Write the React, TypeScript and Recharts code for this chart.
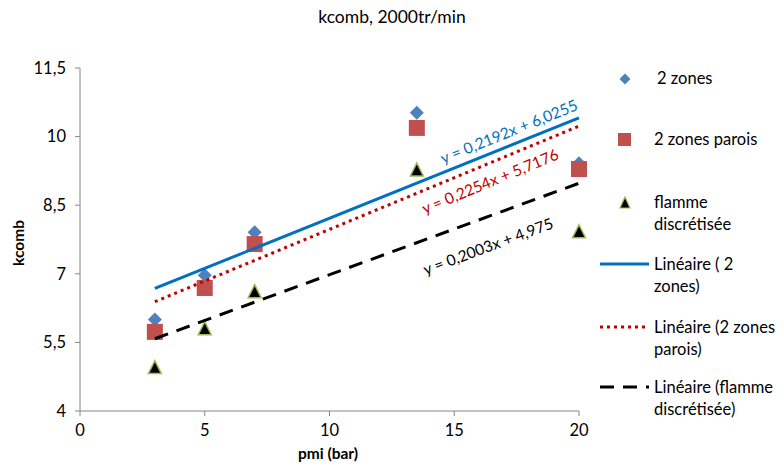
import { ComposedChart, Scatter, XAxis, YAxis, ReferenceDot } from 'recharts';

const pmi = [3, 5, 7, 13.5, 20];
const twoZones = [6.0, 6.97, 7.91, 10.52, 9.42];
const twoZonesParois = [5.73, 6.69, 7.65, 10.19, 9.29];
const flamme = [4.95, 5.8, 6.61, 9.27, 7.92];

// trendline end points (x = 3 and x = 20)
const trendX = [3, 20];
const trendTwoZones = [6.68, 10.41];
const trendParois = [6.39, 10.23];
const trendFlamme = [5.58, 8.98];

const xTicks = [0, 5, 10, 15, 20];
const yTicks = [4, 5.5, 7, 8.5, 10, 11.5];

const FONT = 'Lato, "Noto Sans", sans-serif';
const AXIS = '#868686';

const toPoints = (xs: number[], ys: number[]) => xs.map((x, i) => ({ x, y: ys[i] }));

const Diamond = ({ cx, cy, r = 7 }: any) => (
  <path d={`M${cx},${cy - r} L${cx + r},${cy} L${cx},${cy + r} L${cx - r},${cy} Z`} fill="#4f81bd" />
);
const Square = ({ cx, cy }: any) => <rect x={cx - 8} y={cy - 8} width={16} height={16} fill="#c0504d" />;
const Triangle = ({ cx, cy }: any) => (
  <path
    d={`M${cx},${cy - 7} L${cx + 6.5},${cy + 6} L${cx - 6.5},${cy + 6} Z`}
    fill="#000"
    stroke="#9bbb59"
    strokeWidth={1.5}
  />
);
const NoShape = () => null;

const equation = (text: string, color: string, angle: number) => ({ cx, cy }: any) => (
  <text
    x={cx}
    y={cy}
    transform={`rotate(${-angle} ${cx} ${cy})`}
    textAnchor="middle"
    dominantBaseline="central"
    fontSize={15.5}
    fontFamily={FONT}
    fill={color}
  >
    {text}
  </text>
);

const legendText: React.CSSProperties = {
  position: 'absolute',
  fontSize: 16.5,
  lineHeight: '22px',
  color: '#000',
  fontFamily: FONT,
  whiteSpace: 'nowrap',
};

export default function App() {
  return (
    <div style={{ position: 'fixed', left: 0, top: 0, width: 784, height: 468, background: '#fff', fontFamily: FONT }}>
      <div style={{ position: 'absolute', top: 6, left: 0, width: 784, textAlign: 'center', fontSize: 17.5 }}>
        kcomb, 2000tr/min
      </div>
      <div
        style={{
          position: 'absolute',
          left: 18,
          top: 243,
          transform: 'translate(-50%, -50%) rotate(-90deg)',
          fontSize: 15.5,
          fontWeight: 'bold',
        }}
      >
        kcomb
      </div>
      <div style={{ position: 'absolute', left: 328, top: 453, transform: 'translate(-50%, -50%)', fontSize: 15.5, fontWeight: 'bold' }}>
        pmi (bar)
      </div>

      <ComposedChart width={784} height={468} margin={{ top: 68, right: 205, bottom: 27, left: 0 }}>
        <XAxis
          type="number"
          dataKey="x"
          domain={[0, 20]}
          ticks={xTicks}
          interval={0}
          stroke={AXIS}
          tickSize={5}
          tickMargin={8}
          height={30}
          tick={{ fill: '#000', fontSize: 16.5, fontFamily: FONT }}
        />
        <YAxis
          type="number"
          dataKey="y"
          domain={[4, 11.5]}
          ticks={yTicks}
          interval={0}
          width={80}
          stroke={AXIS}
          tickSize={5}
          tickMargin={9}
          tickFormatter={(v: number) => String(v).replace('.', ',')}
          tick={{ fill: '#000', fontSize: 16.5, fontFamily: FONT }}
        />
        <Scatter data={toPoints(pmi, twoZones)} shape={Diamond} isAnimationActive={false} />
        <Scatter data={toPoints(pmi, twoZonesParois)} shape={Square} isAnimationActive={false} />
        <Scatter data={toPoints(pmi, flamme)} shape={Triangle} isAnimationActive={false} />
        <Scatter
          data={toPoints(trendX, trendTwoZones)}
          line={{ stroke: '#0070c0', strokeWidth: 3 }}
          shape={NoShape}
          isAnimationActive={false}
        />
        <Scatter
          data={toPoints(trendX, trendParois)}
          line={{ stroke: '#c00000', strokeWidth: 3, strokeDasharray: '3 4' }}
          shape={NoShape}
          isAnimationActive={false}
        />
        <Scatter
          data={toPoints(trendX, trendFlamme)}
          line={{ stroke: '#000', strokeWidth: 3, strokeDasharray: '14 9' }}
          shape={NoShape}
          isAnimationActive={false}
        />
        <ReferenceDot x={17.19} y={10.12} r={1} shape={equation('y = 0,2192x + 6,0255', '#0070c0', 21.9)} />
        <ReferenceDot x={16.43} y={9.03} r={1} shape={equation('y = 0,2254x + 5,7176', '#c00000', 22.4)} />
        <ReferenceDot x={16.35} y={7.61} r={1} shape={equation('y = 0,2003x + 4,975', '#000', 20.2)} />
      </ComposedChart>

      {/* legend */}
      <svg style={{ position: 'absolute', left: 0, top: 0 }} width={784} height={468} pointerEvents="none">
        <Diamond cx={625} cy={79} r={5.5} />
        <rect x={618} y={133} width={13} height={13} fill="#c0504d" />
        <path d="M625,197 L630,208 L620,208 Z" fill="#000" stroke="#9bbb59" strokeWidth={1.2} />
        <line x1={600} y1={264} x2={649} y2={264} stroke="#0070c0" strokeWidth={3} />
        <line x1={600} y1={327} x2={649} y2={327} stroke="#c00000" strokeWidth={3} strokeDasharray="3 4" />
        <line x1={600} y1={387} x2={649} y2={387} stroke="#000" strokeWidth={3} strokeDasharray="14 9" />
      </svg>
      <div style={{ ...legendText, left: 657, top: 67 }}>2 zones</div>
      <div style={{ ...legendText, left: 654, top: 128 }}>2 zones parois</div>
      <div style={{ ...legendText, left: 654, top: 191 }}>flamme<br />discrétisée</div>
      <div style={{ ...legendText, left: 654, top: 253 }}>Linéaire ( 2<br />zones)</div>
      <div style={{ ...legendText, left: 654, top: 316 }}>Linéaire (2 zones<br />parois)</div>
      <div style={{ ...legendText, left: 654, top: 376 }}>Linéaire (flamme<br />discrétisée)</div>
    </div>
  );
}
